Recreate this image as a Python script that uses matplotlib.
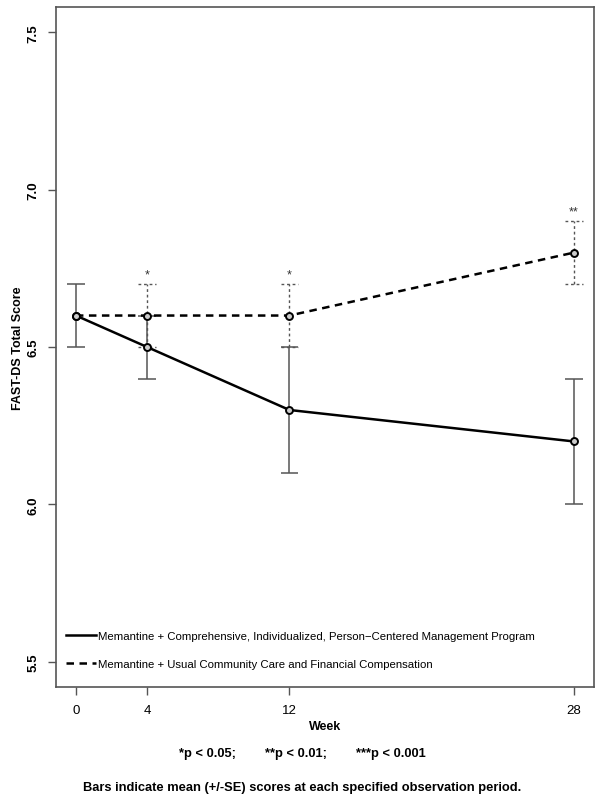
import matplotlib.pyplot as plt

plt.rcParams['font.family'] = ['Liberation Sans', 'DejaVu Sans']

# data
weeks = [0, 4, 12, 28]
treat_mean = [6.6, 6.5, 6.3, 6.2]
treat_se = [0.1, 0.1, 0.2, 0.2]
usual_mean = [6.6, 6.6, 6.6, 6.8]
usual_se = [0.1, 0.1, 0.1, 0.1]
stars = ['', '*', '*', '**']

treat_label = 'Memantine + Comprehensive, Individualized, Person\u2212Centered Management Program'
usual_label = 'Memantine + Usual Community Care and Financial Compensation'

fig = plt.figure(figsize=(6.04, 8.03), dpi=100)
ax = fig.add_axes([0.0927, 0.1432, 0.8907, 0.8468])

cap = 0.5  # half cap width in weeks
bar_col = '#555555'

# error bars for the usual care group (dashed), skipping week 0 (shared baseline)
for w, m, s in zip(weeks[1:], usual_mean[1:], usual_se[1:]):
    ax.vlines(w, m - s, m + s, color=bar_col, lw=1.0, ls=(0, (2, 2)), zorder=2)
    ax.hlines([m - s, m + s], w - cap, w + cap, color=bar_col, lw=1.0, ls=(0, (2, 2)), zorder=2)

# error bars for the management program group (solid)
for w, m, s in zip(weeks, treat_mean, treat_se):
    ax.vlines(w, m - s, m + s, color=bar_col, lw=1.1, zorder=2)
    ax.hlines([m - s, m + s], w - cap, w + cap, color=bar_col, lw=1.1, zorder=2)

ax.plot(weeks, treat_mean, color='black', lw=1.8, ls='-', label=treat_label, zorder=3)
ax.plot(weeks, usual_mean, color='black', lw=1.8, ls=(0, (3, 2.2)), label=usual_label, zorder=3)
ax.plot(weeks, treat_mean, 'o', ms=5, mfc='#cccccc', mec='black', mew=1.4, zorder=4)
ax.plot(weeks, usual_mean, 'o', ms=5, mfc='#cccccc', mec='black', mew=1.4, zorder=4)

for w, m, s, st in zip(weeks, usual_mean, usual_se, stars):
    if st:
        ax.text(w, m + s + 0.012, st, ha='center', va='bottom', fontsize=9, color='#333333')

ax.set_xlim(-1.12, 29.12)
ax.set_ylim(5.42, 7.58)
ax.set_xticks(weeks)
ax.set_yticks([5.5, 6.0, 6.5, 7.0, 7.5])
ax.set_yticklabels(['5.5', '6.0', '6.5', '7.0', '7.5'], rotation=90, va='center',
                   fontweight='bold')
ax.tick_params(axis='both', direction='out', length=6, width=1, color='#555555',
               labelsize=9.5, pad=6)
for sp in ax.spines.values():
    sp.set_color('#555555')
    sp.set_linewidth(1.2)

ax.set_xlabel('Week', fontsize=9, fontweight='bold', labelpad=3)
fig.text(18 / 604, 0.5667, 'FAST-DS Total Score', rotation=90, ha='center', va='center',
         fontsize=9, fontweight='bold')

leg = ax.legend(loc='lower left', bbox_to_anchor=(0.0, 0.012), frameon=False,
                fontsize=8.2, handlelength=2.6, handletextpad=0.15, labelspacing=1.55)

fig.text(0.5, 0.057, '*p < 0.05;        **p < 0.01;        ***p < 0.001', ha='center',
         fontsize=9.3, fontweight='bold')
fig.text(0.5, 0.015, 'Bars indicate mean (+/-SE) scores at each specified observation period.',
         ha='center', fontsize=9.3, fontweight='bold')

fig.savefig('out.png', dpi=100)
